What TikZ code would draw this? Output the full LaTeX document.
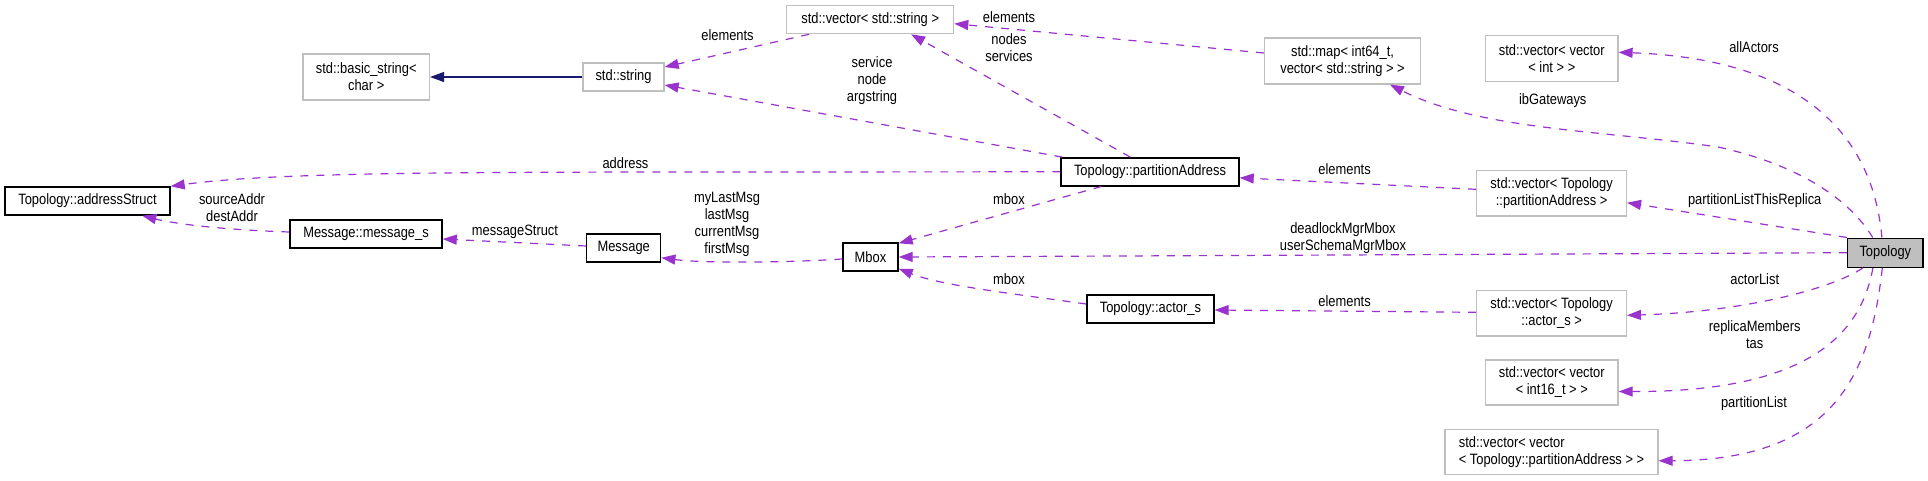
\documentclass[tikz,border=0pt]{standalone}
\usepackage{fontspec}
\setmainfont[FakeStretch=0.86]{Liberation Sans}
\usetikzlibrary{arrows.meta,calc}
\definecolor{edgep}{HTML}{9A32CD}
\definecolor{gbord}{HTML}{BFBFBF}
\definecolor{navyc}{HTML}{191970}
\definecolor{topofill}{HTML}{BFBFBF}
\begin{document}
\begin{tikzpicture}[x=1pt,y=-1pt,
  txt/.style={font=\fontsize{15}{17}\selectfont},
  lab/.style={txt, align=center, inner sep=0pt},
  box/.style={txt, draw, rectangle, inner sep=0pt, align=center, fill=white},
  gbox/.style={box, draw=gbord, line width=1.2pt},
  bbox/.style={box, draw=black, line width=1.4pt},
  dep/.style={draw=edgep, line width=1.2pt, dash pattern=on 8pt off 8pt, -{Triangle[length=14pt,width=10pt]}},
  inh/.style={draw=navyc, line width=1.2pt, -{Triangle[length=14pt,width=10pt]}}
]
\useasboundingbox (0,0) rectangle (1928,480);

% nodes
\node[gbox, minimum width=126.5, minimum height=46] (bstr) at (366.2,77) {std::basic\_string<\\char >};
\node[gbox, minimum width=81, minimum height=28] (str) at (623.5,77) {std::string};
\node[bbox, minimum width=165, minimum height=28] (addr) at (87.5,201) {Topology::addressStruct};
\node[bbox, minimum width=152, minimum height=28] (ms) at (366,234) {Message::message\_s};
\node[bbox, minimum width=74, minimum height=28] (msg) at (623.7,248) {Message};
\node[bbox, minimum width=55, minimum height=28] (mbox) at (870.5,257) {Mbox};
\node[gbox, minimum width=167, minimum height=28] (vecstr) at (870.2,19.7) {std::vector< std::string >};
\node[bbox, minimum width=178, minimum height=28] (pa) at (1150,171.8) {Topology::partitionAddress};
\node[bbox, minimum width=127, minimum height=28] (actor) at (1150.4,309) {Topology::actor\_s};
\node[gbox, minimum width=156, minimum height=46] (map) at (1342.5,61) {std::map< int64\_t,\\vector< std::string > >};
\node[gbox, minimum width=132.4, minimum height=45.6] (vecint) at (1551.8,58.5) {std::vector< vector\\< int > >};
\node[gbox, minimum width=149.7, minimum height=45.3] (vecpa) at (1551.6,193.3) {std::vector< Topology\\::partitionAddress >};
\node[gbox, minimum width=149.7, minimum height=45.3] (vecactor) at (1551.6,313.3) {std::vector< Topology\\::actor\_s >};
\node[gbox, minimum width=132.4, minimum height=45] (vecint16) at (1551.8,382.5) {std::vector< vector\\< int16\_t > >};
\node[gbox, minimum width=213, minimum height=45, align=left] (vecvecpa) at (1551.5,451.8) {std::vector< vector\\< Topology::partitionAddress > >};
\node[bbox, fill=topofill, minimum width=75.4, minimum height=29] (topo) at (1885.3,252.7) {Topology};

% edges
\draw[inh] (str.west) -- (bstr.east);
\draw[dep] ($(vecstr.south west)+(23,0)$) -- ($(str.east)+(0,-10)$);
\draw[dep] ($(pa.north west)+(2,0)$) -- ($(str.east)+(0,8)$);
\draw[dep] ($(pa.north west)+(70,0)$) -- ($(vecstr.south west)+(125,0)$);
\draw[dep] ($(map.west)+(0,-8)$) -- ($(vecstr.east)+(0,4)$);
\draw[dep] (pa.west) -- (700,172) .. controls (400,172) and (260,174) .. (addr.north east);
\draw[dep] ($(ms.west)+(0,-2)$) .. controls (230,230) and (180,225) .. ($(addr.south west)+(138,0)$);
\draw[dep] ($(msg.west)+(0,-2)$) -- ($(ms.east)+(0,5)$);
\draw[dep] ($(mbox.west)+(0,2)$) .. controls (780,263) and (700,263) .. ($(msg.east)+(0,9.7)$);
\draw[dep] ($(pa.south west)+(41,0)$) -- ($(mbox.north east)+(0,1)$);
\draw[dep] (topo.west) -- (mbox.east);
\draw[dep] ($(actor.west)+(0,-5)$) .. controls (1000,292) and (940,285) .. ($(mbox.south east)+(0,-3)$);
\draw[dep] ($(vecpa.west)+(0,-4)$) -- ($(pa.east)+(0,6)$);
\draw[dep] ($(vecactor.west)+(0,-1)$) -- ($(actor.east)+(0,1)$);
\draw[dep] ($(topo.north west)+(25.8,0)$) .. controls (1850,200) and (1800,165) .. (1718,147) .. controls (1600,130) and (1480,130) .. ($(map.south west)+(126,0)$);
\draw[dep] ($(topo.north west)+(35,0)$) .. controls (1875,160) and (1830,60) .. ($(vecint.east)+(0,-6.2)$);
\draw[dep] (topo.north west) -- ($(vecpa.east)+(0,9.4)$);
\draw[dep] ($(topo.south west)+(16,0)$) .. controls (1830,290) and (1740,312) .. ($(vecactor.east)+(0,2)$);
\draw[dep] ($(topo.south west)+(26,0)$) .. controls (1860,340) and (1800,392) .. ($(vecint16.east)+(0,9)$);
\draw[dep] ($(topo.south west)+(35.4,0)$) .. controls (1870,380) and (1830,460) .. ($(vecvecpa.east)+(0,9)$);

% labels
\node[lab] (l1) at (727.5,35) {elements};
\node[lab] (l2) at (872,81) {service\\node\\argstring};
\node[lab] (l3) at (1009,48) {nodes\\services};
\node[lab] (l4) at (1009,16.7) {elements};
\node[lab] (l5) at (625.5,162.7) {address};
\node[lab] (l6) at (232,207.5) {sourceAddr\\destAddr};
\node[lab] (l7) at (515,232) {messageStruct};
\node[lab] (l8) at (727,224.5) {myLastMsg\\lastMsg\\currentMsg\\firstMsg};
\node[lab] (l9) at (1009,199) {mbox};
\node[lab] (l10) at (1009,279.3) {mbox};
\node[lab] (l11) at (1343,238) {deadlockMgrMbox\\userSchemaMgrMbox};
\node[lab] (l12) at (1344.6,168.7) {elements};
\node[lab] (l13) at (1344.6,300.7) {elements};
\node[lab] (l14) at (1754,46.7) {allActors};
\node[lab] (l15) at (1552.7,100.3) {ibGateways};
\node[lab] (l16) at (1754.7,200.7) {partitionListThisReplica};
\node[lab] (l17) at (1754.7,279.3) {actorList};
\node[lab] (l18) at (1754.7,335) {replicaMembers\\tas};
\node[lab] (l19) at (1754,403.3) {partitionList};
\end{tikzpicture}
\end{document}
